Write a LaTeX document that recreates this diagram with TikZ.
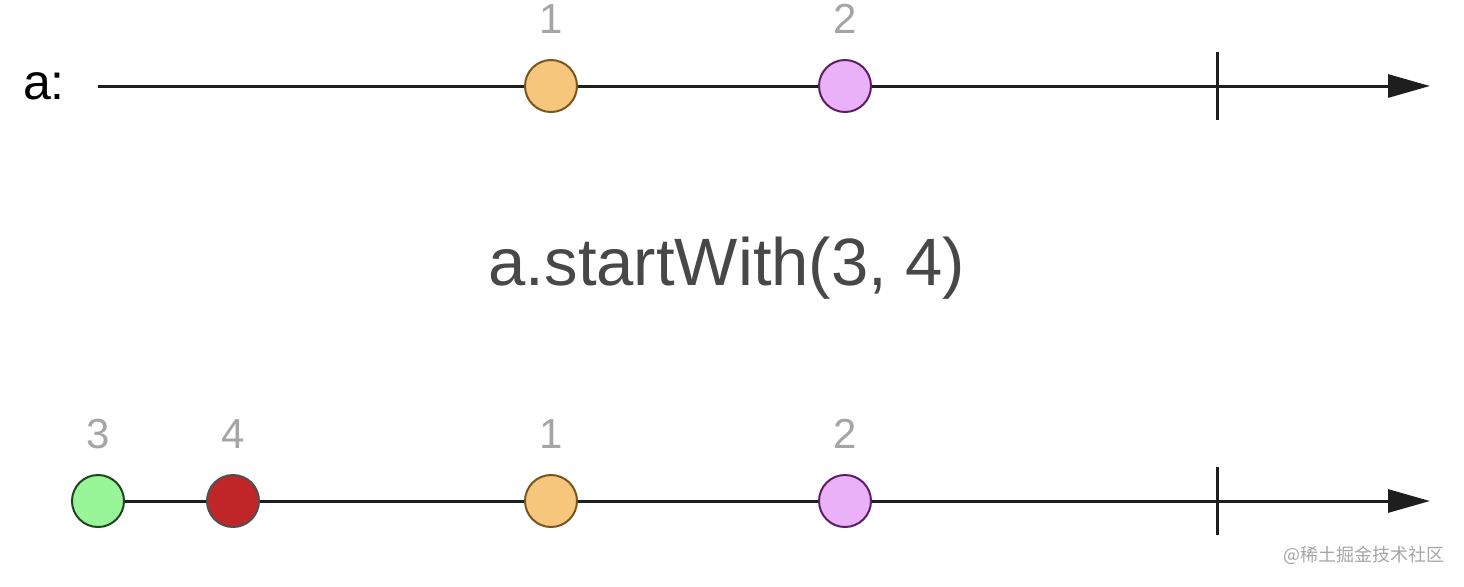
\documentclass[tikz,border=0pt]{standalone}
\usepackage{fontspec}
\setmainfont{Liberation Sans}
\newfontfamily\cjk{Noto Sans CJK SC}
\usetikzlibrary{arrows.meta,positioning}
\definecolor{lineblack}{RGB}{30,30,30}
\definecolor{numgrey}{RGB}{165,165,165}
\definecolor{opgrey}{RGB}{72,72,72}
\definecolor{orangefill}{RGB}{246,198,124}
\definecolor{orangedraw}{RGB}{120,86,30}
\definecolor{purplefill}{RGB}{234,176,248}
\definecolor{purpledraw}{RGB}{92,30,100}
\definecolor{greenfill}{RGB}{152,246,152}
\definecolor{greendraw}{RGB}{30,70,30}
\definecolor{redfill}{RGB}{192,38,40}
\definecolor{reddraw}{RGB}{80,80,80}

\begin{document}
\begin{tikzpicture}[
    x=0.5pt, y=-0.5pt,
    marble/.style={circle, draw, line width=1pt, minimum size=26pt, inner sep=0pt},
    num/.style={text=numgrey, font=\fontsize{21}{21}\selectfont, inner sep=0pt},
    timeline/.style={-{Triangle[length=21pt, width=11.5pt]}, line width=1.5pt, draw=lineblack},
    tick/.style={line width=1.5pt, draw=lineblack}
]
    \useasboundingbox (0,0) rectangle (1464,586);

    % source stream
    \coordinate (topstart) at (98,86);
    \coordinate (topend) at (1430,86);
    \coordinate (topdone) at (1217,86);
    \draw[timeline] (topstart) -- (topend);
    \draw[tick] ([yshift=17pt]topdone) -- ([yshift=-17pt]topdone);
    \node[font=\fontsize{25}{25}\selectfont, text=black] (alabel) at (44,86) {a:};
    \node[marble, fill=orangefill, draw=orangedraw] (t1) at (551,86) {};
    \node[marble, fill=purplefill, draw=purpledraw] (t2) at (845,86) {};
    \node[num, above=12.5pt of t1] (t1num) {1};
    \node[num, above=12.5pt of t2] (t2num) {2};

    % operator
    \node[text=opgrey, font=\fontsize{33.5}{33.5}\selectfont] (op) at (727,268) {a.startWith(3, 4)};

    % result stream
    \coordinate (botstart) at (98,501);
    \coordinate (botend) at (1430,501);
    \coordinate (botdone) at (1217,501);
    \draw[timeline] (botstart) -- (botend);
    \draw[tick] ([yshift=17pt]botdone) -- ([yshift=-17pt]botdone);
    \node[marble, fill=greenfill, draw=greendraw] (b3) at (botstart) {};
    \node[marble, fill=redfill, draw=reddraw] (b4) at (233,501) {};
    \node[marble, fill=orangefill, draw=orangedraw] (b1) at (551,501) {};
    \node[marble, fill=purplefill, draw=purpledraw] (b2) at (845,501) {};
    \node[num, above=12.5pt of b3] (b3num) {3};
    \node[num, above=12.5pt of b4] (b4num) {4};
    \node[num, above=12.5pt of b1] (b1num) {1};
    \node[num, above=12.5pt of b2] (b2num) {2};

    \node[anchor=east, inner sep=0pt, text=numgrey, font=\cjk\fontsize{9}{9}\selectfont] (mark) at (1445,555) {@稀土掘金技术社区};
\end{tikzpicture}
\end{document}
